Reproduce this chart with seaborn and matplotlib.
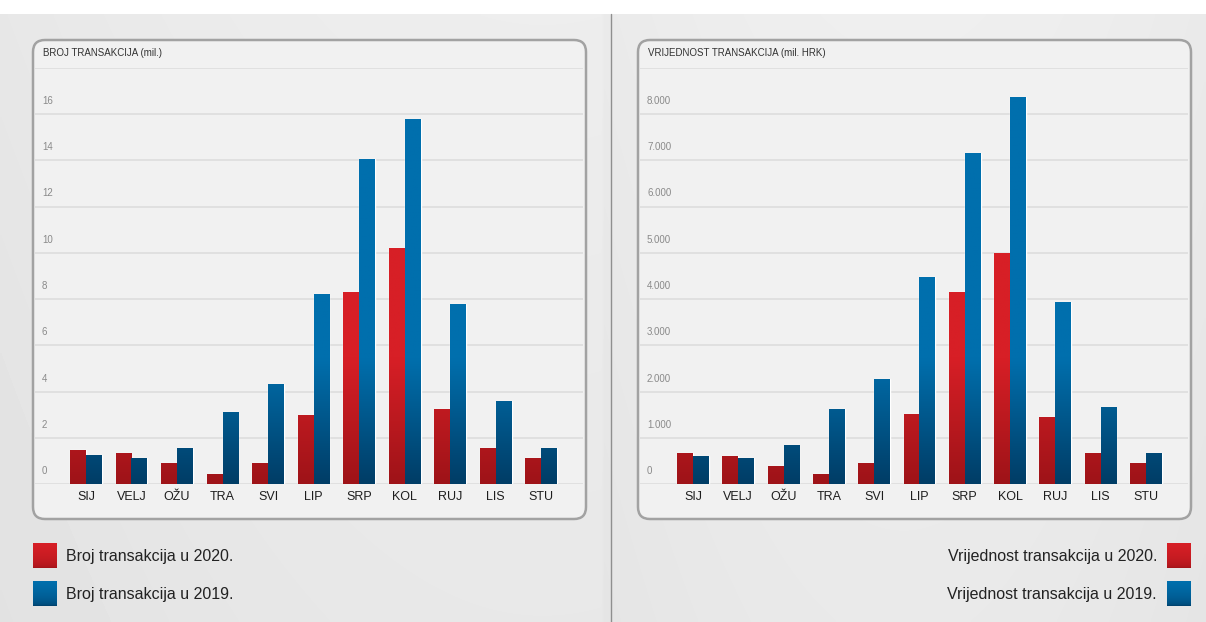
import numpy as np
import pandas as pd
import matplotlib
matplotlib.use("Agg")
import matplotlib.pyplot as plt
import seaborn as sns
from matplotlib.colors import LinearSegmentedColormap
from matplotlib.patches import FancyBboxPatch
from matplotlib import transforms

# ---- data ----
mjeseci = ["SIJ", "VELJ", "OŽU", "TRA", "SVI", "LIP", "SRP", "KOL", "RUJ", "LIS", "STU"]
broj_2020 = [1.47, 1.35, 0.91, 0.46, 0.91, 3.0, 8.3, 10.2, 3.25, 1.58, 1.13]
broj_2019 = [1.25, 1.13, 1.58, 3.13, 4.34, 8.2, 14.05, 15.8, 7.77, 3.58, 1.58]
vrijednost_2020 = [670, 620, 400, 230, 455, 1510, 4156, 4985, 1450, 670, 455]
vrijednost_2019 = [620, 565, 845, 1617, 2272, 4487, 7150, 8370, 3940, 1673, 670]

broj_ticks = [0, 2, 4, 6, 8, 10, 12, 14, 16]
vrijednost_ticks = [0, 1000, 2000, 3000, 4000, 5000, 6000, 7000, 8000]

RED, RED_DARK = "#d71f26", "#9e1318"
BLUE, BLUE_DARK = "#006fad", "#003d66"

sns.set_theme(style="white")
plt.rcParams["font.family"] = ["Liberation Sans", "DejaVu Sans"]
NARROW = ["Liberation Sans Narrow", "Liberation Sans", "DejaVu Sans"]

W, H = 1206, 622
fig = plt.figure(figsize=(W / 100, H / 100), dpi=100)
fig.patch.set_facecolor("white")


def px_rect(x0, y0, x1, y1):
    # pixel box (top-left origin) -> figure fraction [l, b, w, h]
    return [x0 / W, 1 - y1 / H, (x1 - x0) / W, (y1 - y0) / H]


# -------- background --------
bg = fig.add_axes(px_rect(0, 14, W, H), zorder=-10)
yy, xx = np.mgrid[0:1:200j, 0:1:400j]
shade = 0.93 - 0.03 * ((xx - 0.45) ** 2) * 4 - 0.02 * yy
shade[:, 200:] = 0.935 - 0.05 * ((xx[:, 200:] - 0.75) ** 2) * 6 - 0.02 * yy[:, 200:]
bg.imshow(shade, cmap="gray", vmin=0, vmax=1, aspect="auto", interpolation="bilinear")
bg.axis("off")
fig.add_artist(plt.Line2D([611 / W, 611 / W], [0, 1 - 14 / H], color="#8f8f8f", lw=1, zorder=-4))

inch = fig.dpi_scale_trans
for bx in (33, 638):
    box = FancyBboxPatch((bx / 100, (H - 519) / 100), 5.53, 4.79,
                         boxstyle="round,pad=0,rounding_size=0.12",
                         transform=inch, facecolor="#f1f1f1", edgecolor="#a2a2a2",
                         lw=1.8, zorder=-5)
    fig.add_artist(box)


def gradient_bars(ax, container, dark, bright, ymax):
    cmap = LinearSegmentedColormap.from_list("g", [dark, bright])
    grad = np.clip(np.linspace(0, 1, 256) / 0.3, 0, 1).reshape(-1, 1)
    for bar in container:
        x0, w = bar.get_x(), bar.get_width()
        im = ax.imshow(grad, cmap=cmap, vmin=0, vmax=1, origin="lower",
                       extent=(x0, x0 + w, 0, ymax), aspect="auto",
                       interpolation="bilinear", zorder=bar.get_zorder() + 0.1)
        im.set_clip_path(bar)


def draw_panel(rect, v2020, v2019, ticks, ymax, xlim, title, title_x, tick_fmt):
    ax = fig.add_axes(px_rect(*rect))
    df = pd.DataFrame({
        "mjesec": mjeseci * 2,
        "godina": ["2020"] * len(mjeseci) + ["2019"] * len(mjeseci),
        "vrijednost": v2020 + v2019,
    })
    sns.barplot(data=df, x="mjesec", y="vrijednost", hue="godina",
                hue_order=["2020", "2019"], palette=[RED, BLUE], width=0.7,
                saturation=1, errorbar=None, legend=False, ax=ax)
    gradient_bars(ax, ax.containers[0], RED_DARK, RED, ymax)
    gradient_bars(ax, ax.containers[1], BLUE_DARK, BLUE, ymax)

    ax.set_xlim(*xlim)
    ax.set_ylim(0, ymax)
    ax.set_facecolor("none")
    for s in ax.spines.values():
        s.set_visible(False)
    ax.set_yticks(ticks + [ymax])
    ax.set_yticklabels([])
    ax.yaxis.grid(True, color="#e0e0e0", lw=1.4)
    ax.set_axisbelow(True)
    ax.tick_params(axis="y", length=0)
    ax.tick_params(axis="x", length=0, pad=5, labelsize=9, labelcolor="#1e1e1e")
    ax.set_xlabel("")
    ax.set_ylabel("")

    lab_tr = transforms.offset_copy(ax.get_yaxis_transform(), fig=fig, x=7, y=13, units="dots")
    for t in ticks:
        ax.text(0, t, tick_fmt(t), transform=lab_tr, ha="left", va="center",
                fontsize=7, color="#8a8a8a")

    fig.text(title_x / W, 1 - 53 / H, title, ha="left", va="center",
             fontsize=7, color="#333333", family=NARROW)
    return ax


draw_panel((35, 67.6, 583, 484.3), broj_2020, broj_2019, broj_ticks, 18,
           (-1.12, 10.92), "BROJ TRANSAKCIJA (mil.)", 43, lambda v: f"{v}")
draw_panel((640, 67.6, 1188, 484.3), vrijednost_2020, vrijednost_2019, vrijednost_ticks, 9000,
           (-1.17, 10.93), "VRIJEDNOST TRANSAKCIJA (mil. HRK)", 648,
           lambda v: f"{v:,}".replace(",", "."))

# -------- legends --------
def legend_square(x0, y0, dark, bright):
    lax = fig.add_axes(px_rect(x0, y0, x0 + 24, y0 + 25))
    cmap = LinearSegmentedColormap.from_list("l", [dark, bright])
    lax.imshow(np.linspace(0, 1, 64).reshape(-1, 1) ** 0.4, cmap=cmap, origin="lower",
               aspect="auto", vmin=0, vmax=1)
    lax.axis("off")


legend_square(33, 543, RED_DARK, RED)
legend_square(33, 581, BLUE_DARK, BLUE)
legend_square(1167, 543, RED_DARK, RED)
legend_square(1167, 581, BLUE_DARK, BLUE)

fig.text(66 / W, 1 - 556 / H, "Broj transakcija u 2020.", ha="left", va="center",
         fontsize=11.5, color="#222222")
fig.text(66 / W, 1 - 594 / H, "Broj transakcija u 2019.", ha="left", va="center",
         fontsize=11.5, color="#222222")
fig.text(1157 / W, 1 - 556 / H, "Vrijednost transakcija u 2020.", ha="right", va="center",
         fontsize=11.5, color="#222222")
fig.text(1157 / W, 1 - 594 / H, "Vrijednost transakcija u 2019.", ha="right", va="center",
         fontsize=11.5, color="#222222")

plt.savefig("out.png", dpi=100)
plt.close(fig)
